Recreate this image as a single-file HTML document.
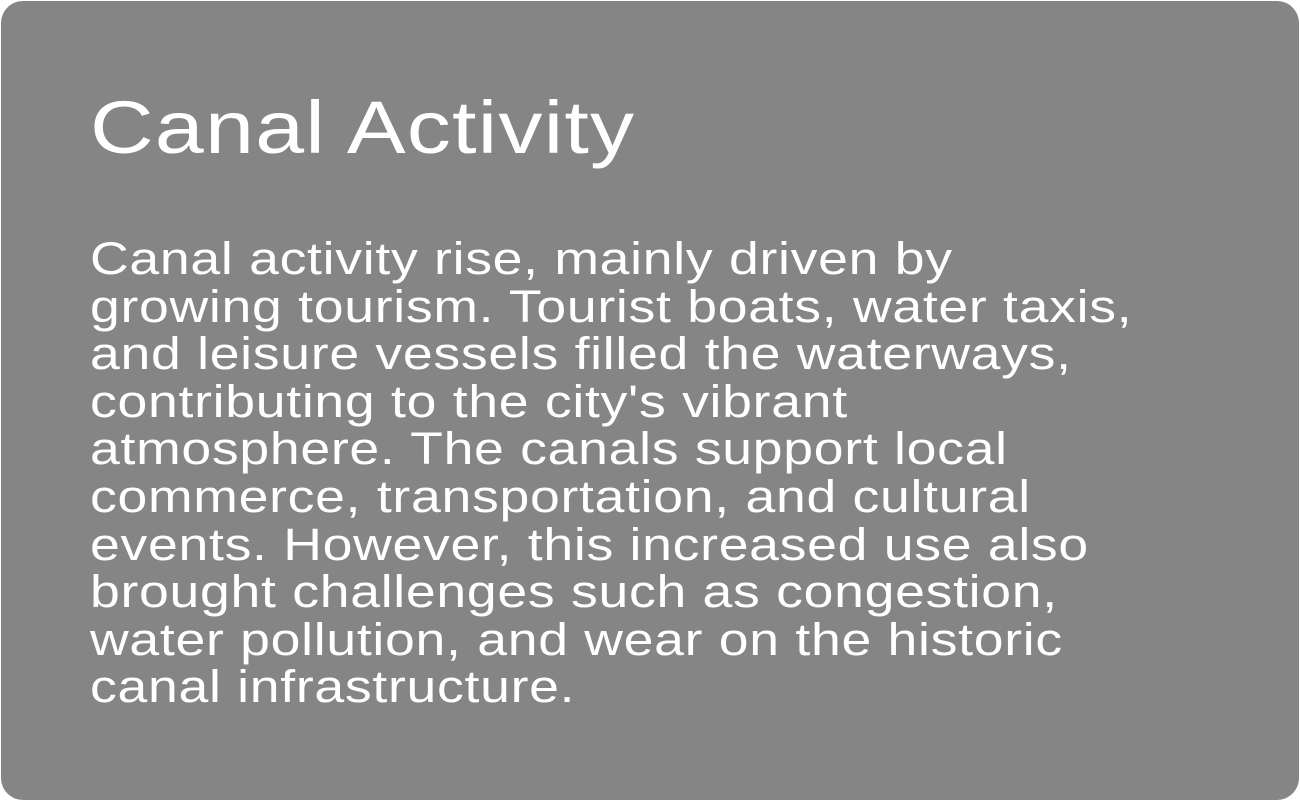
<!DOCTYPE html>
<html>
<head>
<meta charset="utf-8">
<style>
  html, body { margin:0; padding:0; width:1300px; height:801px; background:#ffffff; overflow:hidden; }
  .card {
    position:absolute; left:1px; top:1px; width:1298px; height:799px;
    background:#858585; border-radius:22px;
    font-family:"Liberation Sans", sans-serif; color:#ffffff;
  }
  .title {
    position:absolute; left:89px; top:82px;
    font-size:74px; line-height:90px; letter-spacing:1px; white-space:nowrap;
    transform:scaleX(1.19); transform-origin:left top;
  }
  .body {
    position:absolute; left:89px; top:234px;
    font-size:45px; line-height:47.6px; letter-spacing:0.6px;
    transform:scaleX(1.19); transform-origin:left top;
  }
  .body div { white-space:nowrap; }
</style>
</head>
<body>
<div class="card">
  <div class="title">Canal Activity</div>
  <div class="body">
    <div>Canal activity rise, mainly driven by</div>
    <div>growing tourism. Tourist boats, water taxis,</div>
    <div>and leisure vessels filled the waterways,</div>
    <div>contributing to the city's vibrant</div>
    <div>atmosphere. The canals support local</div>
    <div>commerce, transportation, and cultural</div>
    <div>events. However, this increased use also</div>
    <div>brought challenges such as congestion,</div>
    <div>water pollution, and wear on the historic</div>
    <div>canal infrastructure.</div>
  </div>
</div>
</body>
</html>
